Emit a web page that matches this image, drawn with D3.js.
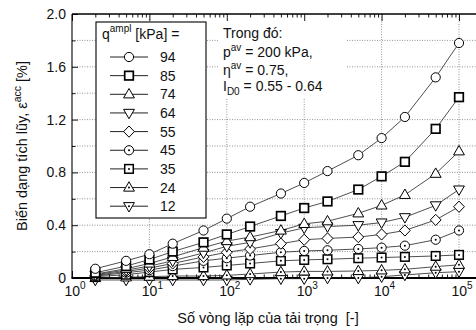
<!DOCTYPE html>
<html><head><meta charset="utf-8">
<script src="https://cdn.jsdelivr.net/npm/d3@7"></script>
<style>
body{margin:0;background:#fff}
svg{display:block;font-family:"Liberation Sans",Arial,Helvetica,sans-serif}
text{white-space:pre}
</style>
</head><body>
<svg id="c" width="476" height="330"></svg>
<script>
// ---- data ----
const cycles = [2,5,10,20,50,100,200,500,1000,2000,5000,10000,20000,50000,100000];
const amplitudes = [94,85,74,64,55,45,35,24,12];
const symbols = ["circle","square","triUp","triDown","diamond","circleDot","squareDot","triUpDot","triDownDot"];
const q94 = [0.07,0.13,0.18,0.26,0.36,0.45,0.54,0.64,0.72,0.81,0.93,1.06,1.22,1.52,1.78];
const q85 = [0.04,0.09,0.14,0.20,0.27,0.33,0.39,0.47,0.53,0.58,0.67,0.77,0.88,1.13,1.37];
const q74 = [0.03,0.07,0.11,0.16,0.23,0.28,0.31,0.36,0.41,0.43,0.49,0.55,0.63,0.79,0.96];
const q64 = [0.025,0.06,0.09,0.13,0.19,0.24,0.27,0.34,0.38,0.39,0.40,0.42,0.46,0.55,0.67];
const q55 = [0.02,0.05,0.075,0.11,0.16,0.195,0.22,0.26,0.29,0.30,0.31,0.33,0.36,0.44,0.54];
const q45 = [0.015,0.04,0.06,0.09,0.13,0.15,0.17,0.195,0.205,0.21,0.22,0.23,0.245,0.29,0.36];
const q35 = [0.01,0.025,0.045,0.065,0.08,0.095,0.11,0.13,0.137,0.142,0.15,0.155,0.16,0.167,0.175];
const q24 = [0.0,0.005,0.01,0.015,0.015,0.02,0.03,0.045,0.05,0.05,0.053,0.058,0.066,0.086,0.10];
const q12 = [-0.015,-0.015,-0.015,-0.015,-0.015,-0.015,-0.01,-0.005,-0.005,0,0,0.01,0.023,0.04,0.048];
const seriesValues = [q94,q85,q74,q64,q55,q45,q35,q24,q12];
const yTicks = [0,0.4,0.8,1.2,1.6,2.0];
const yGrid = [0.2,0.4,0.6,0.8,1.0,1.2,1.6,1.8];
const yGridShort = [1.4];
const xTicks = [1,10,100,1000,10000,100000];
const xExp = ["0","1","2","3","4","5"];

// ---- layout ----
const L = 72, R = 459, RE = 476, T = 14, B = 278;
const svg = d3.select("#c");
const x = d3.scaleLog().domain([1,1e5]).range([L,R]);
const y = d3.scaleLinear().domain([0,2]).range([B,T]);
const xMax = x.invert(RE);

const grid = svg.append("g").attr("stroke","#777").attr("stroke-width",0.8).attr("stroke-dasharray","1,1.5");
grid.selectAll(".hg").data(yGrid).join("line")
  .attr("x1",L).attr("x2",RE).attr("y1",d=>y(d)).attr("y2",d=>y(d));
grid.selectAll(".hs").data(yGridShort).join("line")
  .attr("x1",L).attr("x2",100).attr("y1",d=>y(d)).attr("y2",d=>y(d));
grid.selectAll(".vg").data(xTicks.slice(1)).join("line")
  .attr("x1",d=>x(d)).attr("x2",d=>x(d)).attr("y1",T).attr("y2",B);

// white box behind annotation
svg.append("rect").attr("x",219).attr("y",T+2).attr("width",128).attr("height",83).attr("fill","#fff");

// minor log ticks
const minor = [];
for (let d=1; d<=1e5; d*=10) for (let m=2; m<=9; m++) if (d*m<=xMax) minor.push(d*m);
const bottomMinor = d3.axisBottom(x).tickValues(minor).tickSize(-3.5).tickFormat("");
const bottomMajor = d3.axisBottom(x).tickValues(xTicks).tickSize(-7).tickFormat("");
const topMinor = d3.axisTop(x).tickValues(minor).tickSize(-3.5).tickFormat("");
const topMajor = d3.axisTop(x).tickValues(xTicks).tickSize(-7).tickFormat("");
[[bottomMinor,B],[bottomMajor,B],[topMinor,T],[topMajor,T]].forEach(([a,yy])=>{
  const g = svg.append("g").attr("transform",`translate(0,${yy})`).call(a);
  g.select(".domain").remove();
  g.selectAll("line").attr("stroke","#000").attr("stroke-width",0.9);
});
const leftMajor = d3.axisLeft(y).tickValues(yTicks).tickSize(-6).tickFormat("");
const leftMinor = d3.axisLeft(y).tickValues([0.2,0.6,1.0,1.4,1.8]).tickSize(-3.5).tickFormat("");
[leftMajor,leftMinor].forEach(a=>{
  const g = svg.append("g").attr("transform",`translate(${L},0)`).call(a);
  g.select(".domain").remove();
  g.selectAll("line").attr("stroke","#000").attr("stroke-width",0.9);
});
// axis lines
svg.append("line").attr("x1",L).attr("x2",RE).attr("y1",T).attr("y2",T).attr("stroke","#000").attr("stroke-width",1.3);
svg.append("line").attr("x1",L-0.5).attr("x2",RE).attr("y1",B).attr("y2",B).attr("stroke","#000").attr("stroke-width",2);
svg.append("line").attr("x1",L).attr("x2",L).attr("y1",T).attr("y2",B).attr("stroke","#000").attr("stroke-width",1.1);

// tick labels
svg.append("g").selectAll("text").data(yTicks).join("text")
  .attr("x",66).attr("y",d=>y(d)+5).attr("text-anchor","end").attr("font-size",14).attr("fill","#111")
  .text(d=>d===0?"0":d.toFixed(1));
const xl = svg.append("g").selectAll("text").data(xTicks).join("text")
  .attr("x",d=>x(d)+3).attr("y",296).attr("text-anchor","middle").attr("font-size",14).attr("fill","#111");
xl.append("tspan").text("10");
xl.append("tspan").attr("font-size",10).attr("dy",-7).text((d,i)=>xExp[i]);

// axis titles
svg.append("text").attr("x",268).attr("y",323).attr("text-anchor","middle").attr("font-size",14.5).attr("fill","#111")
  .text("Số vòng lặp của tải trọng  [-]");
const yt = svg.append("text").attr("transform",`translate(27,${(T+B)/2}) rotate(-90)`).attr("text-anchor","middle")
  .attr("font-size",14.5).attr("fill","#111");
yt.append("tspan").text("Biến dạng tích lũy, ε");
yt.append("tspan").attr("font-size",10.5).attr("dy",-6).text("acc");
yt.append("tspan").attr("dy",6).text(" [%]");

// symbols
function drawSymbol(g, type){
  const sw = 1;
  const base = type.replace("Dot","");
  if (base==="circle") g.append("circle").attr("r",4.6);
  else if (base==="square") g.append("rect").attr("x",-4.3).attr("y",-4.3).attr("width",8.6).attr("height",8.6)
      .attr("stroke-width", type==="square"?1.7:1.5);
  else if (base==="triUp") g.append("path").attr("d","M0,-5.8L5.4,3.6L-5.4,3.6Z");
  else if (base==="triDown") g.append("path").attr("d","M0,5.8L5.4,-3.6L-5.4,-3.6Z");
  else if (base==="diamond") g.append("path").attr("d","M0,-5.6L5.4,0L0,5.6L-5.4,0Z");
  g.selectAll("circle,rect,path").attr("fill","#fff").attr("stroke","#000").each(function(){
    if (!this.getAttribute("stroke-width")) this.setAttribute("stroke-width",sw);
  });
  if (type.endsWith("Dot")) g.append("circle").attr("r",1).attr("fill","#000");
}

const line = d3.line().x(d=>x(d[0])).y(d=>y(d[1]));
const plot = svg.append("g");
seriesValues.forEach(vals=>{
  plot.append("path").datum(cycles.map((c,i)=>[c,vals[i]])).attr("d",line)
    .attr("fill","none").attr("stroke","#222").attr("stroke-width",0.8);
});
for (let s=seriesValues.length-1; s>=0; s--){
  const vals = seriesValues[s];
  cycles.forEach((c,i)=>{
    const g = plot.append("g").attr("transform",`translate(${x(c)},${y(vals[i])})`);
    drawSymbol(g, symbols[s]);
  });
}

// legend
const lg = svg.append("g");
lg.append("rect").attr("x",96).attr("y",22).attr("width",110).attr("height",196)
  .attr("fill","#fff").attr("stroke","#000").attr("stroke-width",1.1);
const lt = lg.append("text").attr("x",102).attr("y",39).attr("font-size",14).attr("fill","#111");
lt.append("tspan").text("q");
lt.append("tspan").attr("font-size",10).attr("dy",-7).text("ampl");
lt.append("tspan").attr("dy",7).text(" [kPa] =");
amplitudes.forEach((a,i)=>{
  const yy = 57 + i*18.65;
  lg.append("line").attr("x1",110).attr("x2",148).attr("y1",yy).attr("y2",yy).attr("stroke","#222").attr("stroke-width",1);
  const g = lg.append("g").attr("transform",`translate(129,${yy})`);
  drawSymbol(g, symbols[i]);
  lg.append("text").attr("x",160).attr("y",yy+5).attr("font-size",14).attr("fill","#111").text(a);
});

// annotation
const ann = svg.append("g").attr("font-size",14).attr("fill","#111");
ann.append("text").attr("x",223).attr("y",38).text("Trong đó:");
const p = ann.append("text").attr("x",223).attr("y",57);
p.append("tspan").text("p"); p.append("tspan").attr("font-size",10).attr("dy",-6).text("av");
p.append("tspan").attr("dy",6).text(" = 200 kPa,");
const e = ann.append("text").attr("x",223).attr("y",75);
e.append("tspan").text("η"); e.append("tspan").attr("font-size",10).attr("dy",-6).text("av");
e.append("tspan").attr("dy",6).text(" = 0.75,");
const id = ann.append("text").attr("x",223).attr("y",91);
id.append("tspan").text("I"); id.append("tspan").attr("font-size",10).attr("dy",4).text("D0");
id.append("tspan").attr("dy",-4).text(" = 0.55 - 0.64");
</script>
</body></html>
